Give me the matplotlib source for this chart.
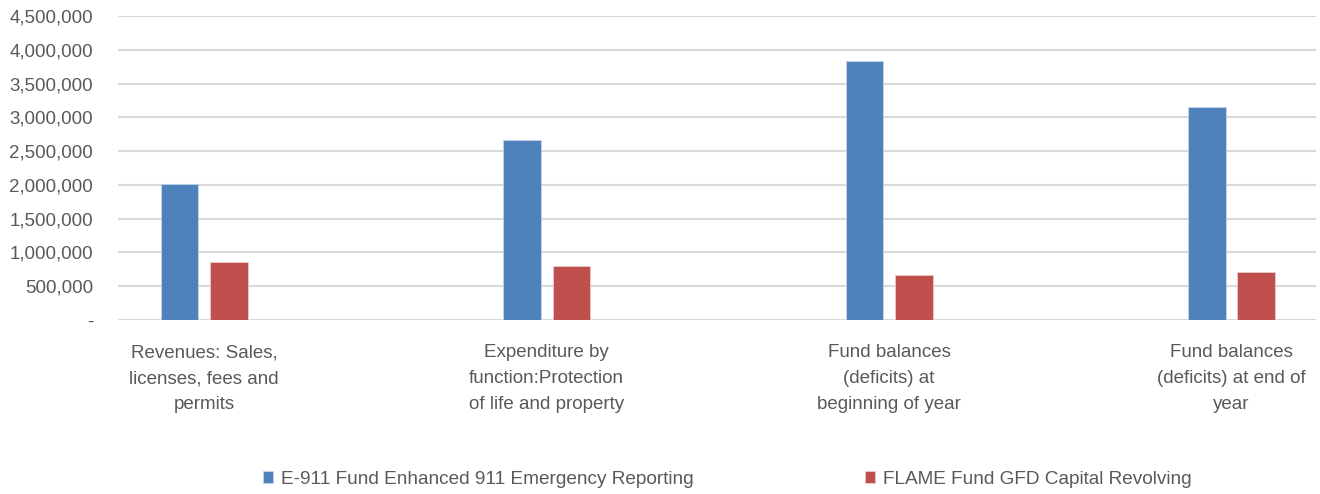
import numpy as np
import matplotlib.pyplot as plt
from matplotlib.ticker import FuncFormatter

plt.rcParams['font.family'] = ['Liberation Sans', 'DejaVu Sans']

categories = ['Revenues: Sales,\nlicenses, fees and\npermits',
              'Expenditure by\nfunction:Protection\nof life and property',
              'Fund balances\n(deficits) at\nbeginning of year',
              'Fund balances\n(deficits) at end of\nyear']
series_names = ['E-911 Fund Enhanced 911 Emergency Reporting',
                'FLAME Fund GFD Capital Revolving']
e911_values = [2010000, 2663000, 3835000, 3158000]
flame_values = [860000, 801000, 659000, 712000]

x = np.arange(len(categories))
width = 0.11
offset = 0.072

fig = plt.figure(figsize=(13.2, 4.94), dpi=100)
ax = fig.add_axes([0.0894, 0.3522, 0.9076, 0.6154])

ax.bar(x - offset, e911_values, width, color='#4f81bd', edgecolor='#c5d5ea',
       linewidth=0.6, label=series_names[0], zorder=3)
ax.bar(x + offset, flame_values, width, color='#c0504d', edgecolor='#ecc9c8',
       linewidth=0.6, label=series_names[1], zorder=3)

ax.set_xlim(-0.252, 3.247)
ax.set_ylim(0, 4500000)
ax.set_yticks(np.arange(0, 4500001, 500000))
ax.yaxis.set_major_formatter(FuncFormatter(
    lambda v, p: '-' if v == 0 else '{:,.0f}'.format(v)))
ax.grid(axis='y', color='#d9d9d9', linewidth=1.5, zorder=0)
ax.set_xticks(x)
ax.set_xticklabels(categories, fontsize=13.5, color='#595959', linespacing=1.69)
ax.tick_params(axis='y', labelsize=13.5, labelcolor='#595959', length=0, pad=18)
ax.tick_params(axis='x', length=0, pad=17.5)
for s in ax.spines.values():
    s.set_visible(False)

fig.legend(loc='center', bbox_to_anchor=(0.551, 0.03), ncol=2, frameon=False,
           fontsize=13.7, handlelength=0.53, handleheight=0.53, handletextpad=0.4,
           columnspacing=9.0, labelcolor='#595959')

fig.savefig('out.png', dpi=100)
